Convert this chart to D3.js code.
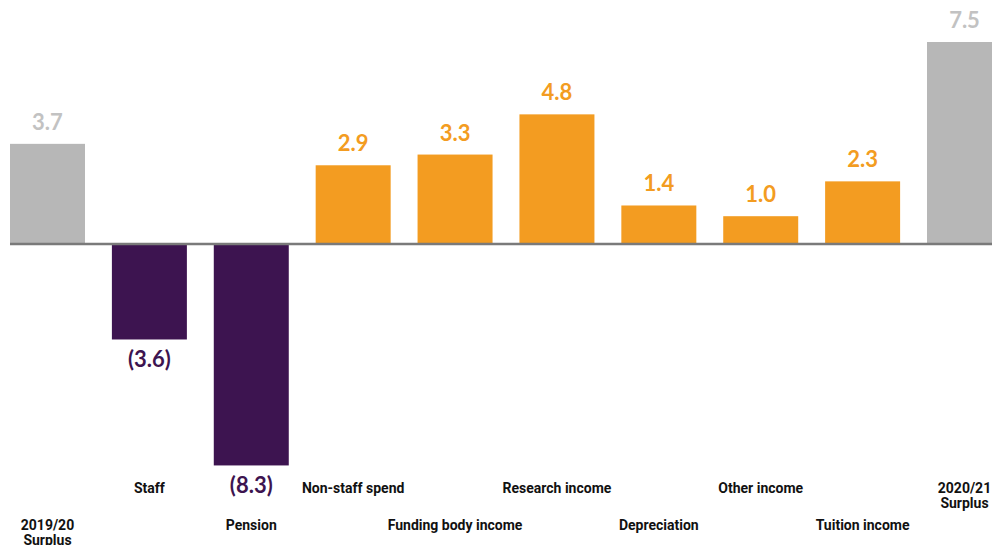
<!DOCTYPE html>
<html>
<head>
<meta charset="utf-8">
<script src="https://cdn.jsdelivr.net/npm/d3@7"></script>
<style>
  html, body { margin: 0; padding: 0; background: #fff; }
  svg { display: block; }
</style>
</head>
<body>
<svg id="chart" width="992" height="545"></svg>
<script>
// Surplus bridge: 2019/20 surplus to 2020/21 surplus (£m)
const categories = [
  "2019/20 Surplus", "Staff", "Pension", "Non-staff spend", "Funding body income",
  "Research income", "Depreciation", "Other income", "Tuition income", "2020/21 Surplus"
];
const values = [3.7, -3.6, -8.3, 2.9, 3.3, 4.8, 1.4, 1.0, 2.3, 7.5];
const kinds = ["total", "neg", "neg", "pos", "pos", "pos", "pos", "pos", "pos", "total"];
const valueLabels = ["3.7", "(3.6)", "(8.3)", "2.9", "3.3", "4.8", "1.4", "1.0", "2.3", "7.5"];

const barColor = { total: "#b7b7b7", neg: "#3d1450", pos: "#f39c21" };
const labelColor = { total: "#c2c2c2", neg: "#3d1450", pos: "#f39c21" };

const svg = d3.select("#chart");
const baseY = 243, pxPerUnit = 26.8;

const x = d3.scaleBand()
  .domain(categories)
  .range([10, 1002])
  .paddingInner(0.264)
  .paddingOuter(0);

const y = d3.scaleLinear()
  .domain([-8.3, 7.5])
  .range([baseY + 8.3 * pxPerUnit, baseY - 7.5 * pxPerUnit]);

const data = categories.map((c, i) => ({ c, v: values[i], k: kinds[i], lab: valueLabels[i], i }));

// bars
svg.append("g").selectAll("rect")
  .data(data)
  .join("rect")
  .attr("x", d => x(d.c))
  .attr("width", x.bandwidth())
  .attr("y", d => Math.min(y(d.v), y(0)))
  .attr("height", d => Math.abs(y(d.v) - y(0)))
  .attr("fill", d => barColor[d.k]);

// zero line
svg.append("line")
  .attr("x1", 10).attr("x2", 992)
  .attr("y1", y(0) + 1).attr("y2", y(0) + 1)
  .attr("stroke", "#7a7a7a")
  .attr("stroke-width", 2.5);

// value labels
svg.append("g").selectAll("text")
  .data(data)
  .join("text")
  .attr("x", d => x(d.c) + x.bandwidth() / 2)
  .attr("y", d => d.v >= 0 ? y(d.v) - 14 : y(d.v) + 28)
  .attr("text-anchor", "middle")
  .attr("font-family", "Lato, 'Noto Sans', sans-serif")
  .attr("font-weight", 700)
  .attr("font-size", 22)
  .attr("fill", d => labelColor[d.k])
  .text(d => d.lab);

// category labels, staggered on two rows
const rowBase = [530, 493];
const catG = svg.append("g")
  .attr("font-family", "Roboto, 'Noto Sans', sans-serif")
  .attr("font-weight", 700)
  .attr("font-size", 14)
  .attr("fill", "#111");

data.forEach(d => {
  const words = (d.c.includes("Surplus")) ? d.c.split(" ") : [d.c];
  const t = catG.append("text")
    .attr("x", x(d.c) + x.bandwidth() / 2)
    .attr("y", rowBase[d.i % 2])
    .attr("text-anchor", "middle");
  words.forEach((w, j) => {
    t.append("tspan")
      .attr("x", x(d.c) + x.bandwidth() / 2)
      .attr("dy", j === 0 ? 0 : 15)
      .text(w);
  });
});
</script>
</body>
</html>
